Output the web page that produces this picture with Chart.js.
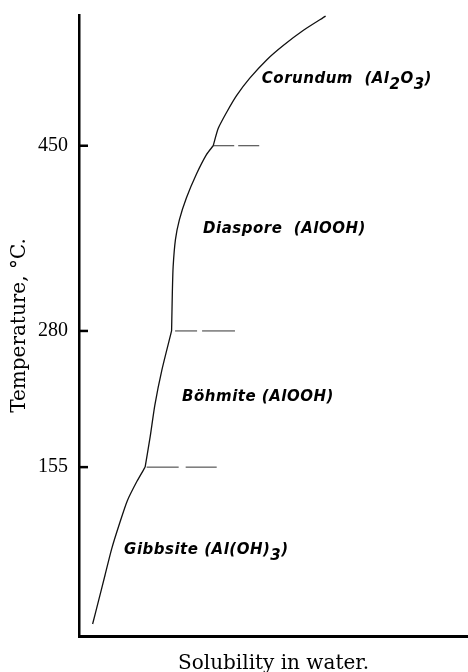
<!DOCTYPE html>
<html>
<head>
<meta charset="utf-8">
<script src="https://cdn.jsdelivr.net/npm/chart.js@4.4.1/dist/chart.umd.min.js"></script>
<style>
  html, body { margin: 0; padding: 0; background: #fff; }
  canvas { display: block; }
</style>
</head>
<body>
<canvas id="chart" width="468" height="672"></canvas>
<script>
/* solubility runs in relative units (0..100), temperature in degrees C */
var gibbsiteX = [3.5, 5.0, 6.7, 8.4, 10.4, 12.4, 14.9, 17.0];
var gibbsiteT = [11, 32, 56, 80, 103, 124, 142, 155];
var boehmiteX = [17.0, 18.3, 19.5, 21.3, 23.8];
var boehmiteT = [155, 183, 212, 244, 280];
var diasporeX = [23.8, 23.9, 24.0, 24.2, 24.8, 25.8, 27.6, 30.2, 32.8, 34.5];
var diasporeT = [280, 298, 316, 339, 364, 382, 402, 424, 442, 450];
var corundumX = [34.5, 35.8, 38.0, 40.5, 43.9, 48.3, 52.5, 57.7, 63.4];
var corundumT = [450, 466, 481, 496, 512, 529, 542, 556, 569];

/* transition temperatures and the short dashed lines drawn at them */
var tempTicks = [155, 280, 450];
var dashStartX = [17.4, 24.7, 34.5];
var dashEndX = [35.4, 40.1, 46.5];
var dashPatterns = [[32, 7], [22, 5, 33, 5], [21, 4]];

/* phase names, "_" marks a subscript piece */
var phaseNames = [
    ["Gibbsite (Al(OH)", "_3", ")"],
    ["Böhmite (AlOOH)"],
    ["Diaspore  (AlOOH)"],
    ["Corundum  (Al", "_2", "O", "_3", ")"]
];
var phaseLabelX = [11.6, 26.5, 31.9, 47.0];
var phaseLabelT = [75, 216, 370, 508];

var toPoints = function (xs, ts) {
    return xs.map(function (x, i) { return {x: x, y: ts[i]}; });
};

var curveStyle = {
    borderColor: "#111",
    borderWidth: 1.3,
    tension: 0.22,
    pointRadius: 0,
    fill: false,
    clip: false
};

var datasets = [
    [gibbsiteX, gibbsiteT],
    [boehmiteX, boehmiteT],
    [diasporeX, diasporeT],
    [corundumX, corundumT]
].map(function (pair) {
    return Object.assign({data: toPoints(pair[0], pair[1])}, curveStyle);
});

tempTicks.forEach(function (t, i) {
    datasets.push({
        data: [{x: dashStartX[i], y: t}, {x: dashEndX[i], y: t}],
        borderColor: "#333",
        borderWidth: 1,
        borderDash: dashPatterns[i],
        pointRadius: 0,
        fill: false
    });
});

/* inward ticks on the temperature axis plus the phase labels */
var annotatePlugin = {
    id: "annotate",
    afterDraw: function (chart) {
        var ctx = chart.ctx;
        var xs = chart.scales.x;
        var ys = chart.scales.y;
        ctx.save();
        ctx.strokeStyle = "#000";
        ctx.lineWidth = 2.5;
        tempTicks.forEach(function (t) {
            var py = ys.getPixelForValue(t);
            ctx.beginPath();
            ctx.moveTo(xs.left, py);
            ctx.lineTo(xs.left + 9, py);
            ctx.stroke();
        });

        ctx.font = 'italic bold 15px "DejaVu Sans"';
        ctx.letterSpacing = "0.5px";
        ctx.fillStyle = "#000";
        ctx.textBaseline = "alphabetic";
        ctx.textAlign = "left";
        phaseNames.forEach(function (parts, i) {
            var px = xs.getPixelForValue(phaseLabelX[i]);
            var py = ys.getPixelForValue(phaseLabelT[i]);
            parts.forEach(function (part) {
                var sub = part.charAt(0) === "_";
                var txt = sub ? part.slice(1) : part;
                ctx.fillText(txt, px, sub ? py + 6 : py);
                px += ctx.measureText(txt).width;
            });
        });
        ctx.restore();
    }
};

new Chart(document.getElementById("chart"), {
    type: "line",
    data: {datasets: datasets},
    plugins: [annotatePlugin],
    options: {
        responsive: false,
        animation: false,
        layout: {padding: {top: 15, right: 0, bottom: 0, left: 0}},
        plugins: {
            legend: {display: false},
            tooltip: {enabled: false}
        },
        scales: {
            x: {
                type: "linear",
                min: 0,
                max: 100,
                grid: {display: false, drawTicks: false},
                border: {display: true, color: "#000", width: 3},
                ticks: {display: false},
                title: {
                    display: true,
                    text: "Solubility in water.",
                    color: "#000",
                    font: {family: "DejaVu Serif", size: 20, lineHeight: 0.8},
                    padding: 0
                },
                afterFit: function (scale) {
                    scale.height = 36;
                    scale.paddingLeft = 0;
                    scale.paddingRight = 0;
                }
            },
            y: {
                type: "linear",
                min: 0,
                max: 570,
                grid: {display: false, drawTicks: false},
                border: {display: true, color: "#000", width: 2.5},
                afterBuildTicks: function (scale) {
                    scale.ticks = tempTicks.map(function (v) { return {value: v}; });
                },
                ticks: {
                    color: "#000",
                    padding: 11,
                    font: {family: "Liberation Serif", size: 20}
                },
                title: {
                    display: true,
                    text: "Temperature, °C.",
                    color: "#000",
                    font: {family: "DejaVu Serif", size: 20, lineHeight: 1.2},
                    padding: {top: 8, bottom: 0}
                },
                afterFit: function (scale) {
                    scale.width = 79;
                    scale.paddingTop = 0;
                    scale.paddingBottom = 0;
                }
            }
        }
    }
});
</script>
</body>
</html>
